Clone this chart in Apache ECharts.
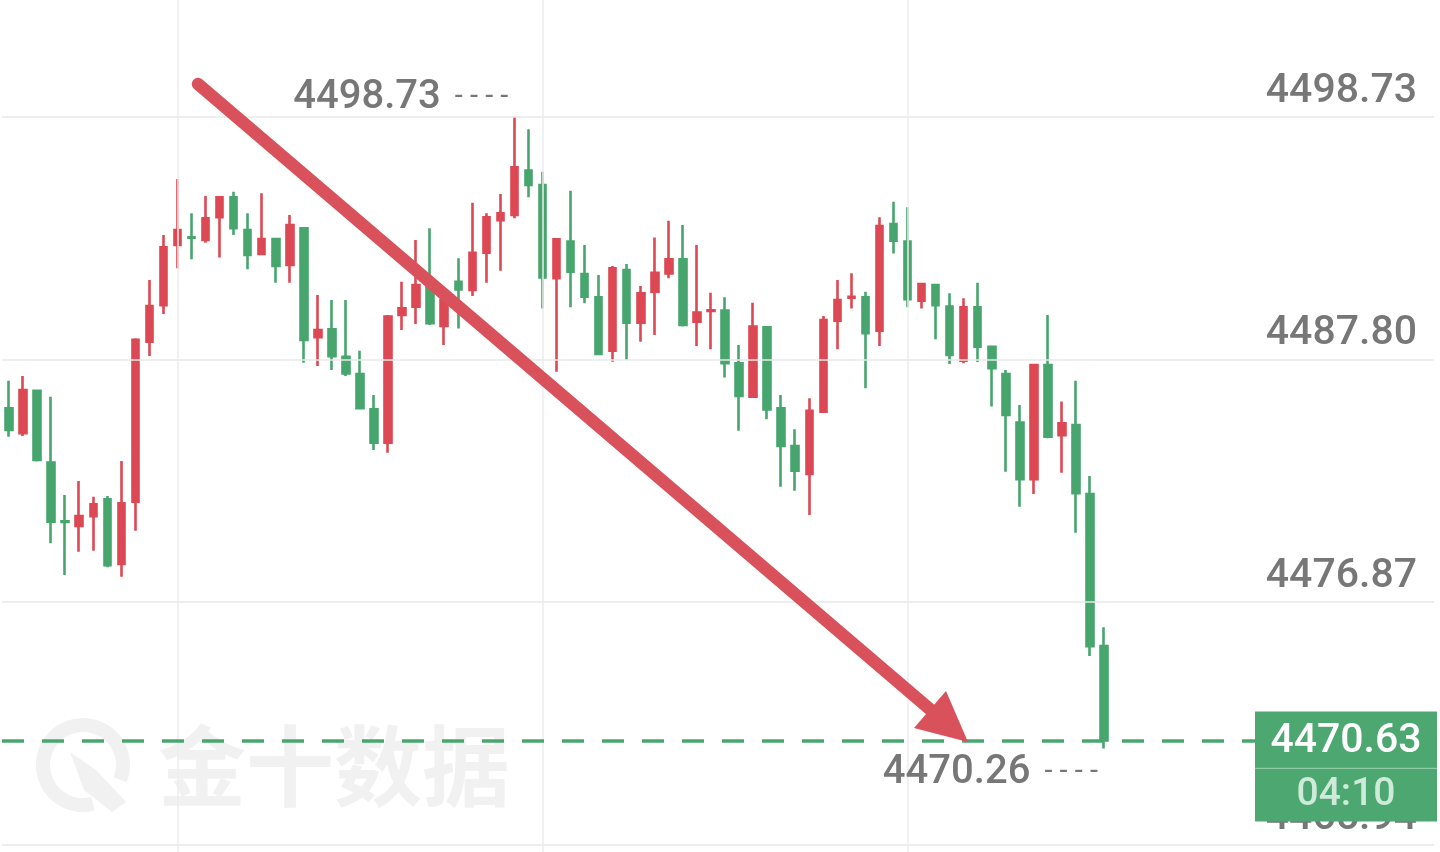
<!DOCTYPE html>
<html>
<head>
<meta charset="utf-8">
<script src="https://cdn.jsdelivr.net/npm/echarts@6/dist/echarts.min.js"></script>
<style>
  html, body { margin: 0; padding: 0; background: #fff; }
  #main { width: 1440px; height: 852px; }
</style>
</head>
<body>
<div id="main"></div>
<script>
// candle values, one entry per candle, left to right
const opens = [4485.60, 4484.48, 4486.39, 4483.15, 4480.50, 4480.29, 4480.74, 4481.50, 4478.58, 4481.39,
  4488.60, 4490.25, 4492.96, 4493.31, 4493.18, 4494.21, 4495.11, 4493.63, 4492.55, 4493.23,
  4492.06, 4493.71, 4488.80, 4489.16, 4487.92, 4487.14, 4485.55, 4484.05, 4489.80, 4490.18,
  4491.26, 4489.31, 4491.30, 4490.93, 4492.61, 4494.08, 4494.31, 4496.31, 4495.66, 4491.46,
  4493.11, 4491.65, 4490.60, 4488.19, 4491.83, 4489.46, 4490.85, 4491.68, 4492.31, 4489.50,
  4489.98, 4490.00, 4487.63, 4486.12, 4489.25, 4485.60, 4483.90, 4482.64, 4485.44, 4489.55,
  4490.58, 4490.60, 4489.09, 4493.90, 4493.11, 4490.45, 4491.15, 4490.18, 4487.74, 4490.15,
  4488.37, 4487.14, 4484.95, 4482.40, 4487.55, 4484.39, 4484.84, 4481.73, 4474.88];
const closes = [4484.62, 4486.42, 4483.27, 4480.49, 4480.48, 4480.74, 4481.27, 4478.53, 4481.32, 4488.68,
  4490.21, 4492.85, 4493.63, 4493.29, 4494.16, 4495.11, 4493.71, 4492.51, 4493.23, 4492.01,
  4493.86, 4488.68, 4489.13, 4487.95, 4487.17, 4485.60, 4484.05, 4489.73, 4490.10, 4491.15,
  4489.43, 4490.48, 4490.96, 4492.61, 4494.21, 4494.39, 4496.46, 4495.66, 4491.50, 4493.21,
  4491.75, 4490.63, 4488.05, 4491.91, 4489.46, 4490.78, 4491.71, 4492.31, 4489.35, 4489.91,
  4490.02, 4487.63, 4486.15, 4489.28, 4485.55, 4483.90, 4482.78, 4485.49, 4489.58, 4490.48,
  4490.62, 4488.98, 4493.81, 4493.15, 4490.51, 4491.20, 4490.25, 4488.00, 4490.15, 4488.37,
  4487.40, 4485.30, 4482.40, 4487.55, 4484.32, 4484.92, 4481.77, 4474.88, 4470.63];
const lows = [4484.32, 4484.35, 4483.20, 4479.51, 4478.08, 4479.13, 4479.18, 4478.43, 4478.01, 4480.08,
  4487.95, 4489.85, 4491.91, 4492.31, 4493.06, 4492.40, 4493.41, 4491.86, 4492.51, 4491.26,
  4491.26, 4487.65, 4487.50, 4487.32, 4487.05, 4485.55, 4483.72, 4483.60, 4489.13, 4489.40,
  4489.35, 4488.45, 4489.20, 4490.66, 4491.26, 4491.80, 4494.16, 4495.11, 4490.10, 4487.25,
  4490.15, 4490.33, 4488.00, 4487.70, 4487.77, 4488.60, 4488.90, 4491.46, 4489.28, 4488.41,
  4488.26, 4486.99, 4484.59, 4486.08, 4485.10, 4482.06, 4481.88, 4480.79, 4485.40, 4488.26,
  4490.10, 4486.50, 4488.41, 4492.58, 4490.15, 4490.10, 4488.71, 4487.59, 4487.63, 4487.68,
  4485.68, 4482.74, 4481.16, 4481.73, 4484.25, 4482.69, 4479.99, 4474.43, 4470.26];
const highs = [4486.84, 4487.05, 4486.45, 4486.12, 4481.69, 4482.32, 4481.61, 4481.64, 4483.22, 4488.75,
  4491.38, 4493.41, 4495.93, 4494.39, 4495.17, 4495.11, 4495.36, 4494.39, 4495.29, 4493.26,
  4494.31, 4493.74, 4490.70, 4490.48, 4490.48, 4488.19, 4486.20, 4489.80, 4491.30, 4493.18,
  4493.71, 4490.63, 4492.36, 4494.86, 4494.39, 4495.26, 4498.73, 4498.17, 4496.26, 4493.21,
  4495.40, 4492.96, 4491.61, 4492.01, 4492.10, 4491.11, 4493.30, 4494.05, 4493.86, 4492.96,
  4490.81, 4490.60, 4488.45, 4490.36, 4489.28, 4486.20, 4484.65, 4486.05, 4489.76, 4491.38,
  4491.68, 4490.85, 4494.21, 4494.91, 4494.66, 4491.20, 4491.20, 4490.78, 4490.56, 4491.26,
  4488.40, 4487.32, 4485.75, 4487.55, 4489.80, 4485.90, 4486.84, 4482.55, 4475.73];

const priceTicks = [4498.73, 4487.80, 4476.87, 4465.94];
const timeGridAt = [12, 38, 64];
const lastPrice = 4470.63;
const countdown = '04:10';

const UP = '#dc4853';
const DOWN = '#47a56e';
const TXT = '#777777';
const FONT = "Roboto, sans-serif";

const candles = opens.map((o, i) => [o, closes[i], lows[i], highs[i]]);
const hiIdx = highs.indexOf(Math.max(...highs));
const loIdx = lows.indexOf(Math.min(...lows));

const gridLines = priceTicks.map(v => ({
  yAxis: v,
  lineStyle: { color: '#e9e9e9', width: 1.5, type: 'solid' },
  label: {
    show: true, position: 'insideEndTop', formatter: v.toFixed(2), distance: 5,
    color: TXT, fontSize: 41, fontWeight: 500, fontFamily: FONT, padding: [0, 12, 0, 0]
  }
}));
const timeLines = timeGridAt.map(i => ({
  xAxis: i,
  lineStyle: { color: '#ececec', width: 1.5, type: 'solid' },
  label: { show: false }
}));

const extLabel = (txt) => '{v|' + txt + '}{g|}{d|- - - -}';
const extRich = {
  v: { fontSize: 40, fontWeight: 500, color: TXT, fontFamily: FONT },
  g: { width: 14 },
  d: { fontSize: 29, color: TXT, fontFamily: FONT }
};

const option = {
  animation: false,
  backgroundColor: '#ffffff',
  grid: { left: 2, right: 6, top: 0, bottom: 0 },
  xAxis: {
    type: 'category',
    max: 101,
    axisLine: { show: false },
    axisTick: { show: false },
    axisLabel: { show: false },
    splitLine: { show: false }
  },
  yAxis: {
    type: 'value',
    min: 4465.60,
    max: 4504.00,
    show: false,
    splitLine: { show: false }
  },
  series: [{
    type: 'candlestick',
    data: candles,
    barWidth: 7,
    clip: false,
    itemStyle: {
      color: UP, color0: DOWN, borderColor: UP, borderColor0: DOWN, borderWidth: 2.6
    },
    markLine: {
      silent: true,
      symbol: ['none', 'none'],
      animation: false,
      data: gridLines.concat(timeLines).concat([{
        yAxis: lastPrice,
        lineStyle: { color: '#4aa66f', width: 3.5, type: [22, 18] },
        label: { show: false }
      }])
    },
    markPoint: {
      silent: true,
      symbol: 'circle',
      symbolSize: 0.1,
      animation: false,
      data: [
        {
          coord: [hiIdx, highs[hiIdx]],
          label: { show: true, position: 'left', distance: 6, offset: [0, -19],
                   formatter: extLabel(highs[hiIdx].toFixed(2)), rich: extRich }
        },
        {
          coord: [loIdx, lows[loIdx]],
          label: { show: true, position: 'left', distance: 6, offset: [0, 24],
                   formatter: extLabel(lows[loIdx].toFixed(2)), rich: extRich }
        }
      ]
    }
  }]
};

const chart = echarts.init(document.getElementById('main'));
chart.setOption(option);

// price tag on the right, placed at the last price level
const py = chart.convertToPixel({ xAxisIndex: 0, yAxisIndex: 0 }, [0, lastPrice])[1];
chart.setOption({
  graphic: [
    {
      type: 'arc', z: 0,
      shape: { cx: 83, cy: 765, r: 40, startAngle: Math.PI * 0.42, endAngle: Math.PI * 2.12, clockwise: true },
      style: { stroke: '#f1f1f1', lineWidth: 14, fill: null }
    },
    {
      type: 'polygon', z: 0,
      shape: { points: [[70, 752], [96, 770], [126, 802], [112, 812], [84, 790]] },
      style: { fill: '#f1f1f1' }
    },
    {
      type: 'text', z: 0, x: 158, y: 766,
      style: { text: '金十数据', fill: '#f1f1f1', font: "bold 88px 'Noto Sans CJK SC'", verticalAlign: 'middle' }
    },
    {
      type: 'line', z: 100,
      shape: { x1: 198, y1: 84, x2: 932, y2: 711 },
      style: { stroke: '#d9525b', lineWidth: 12.5, lineCap: 'round' }
    },
    {
      type: 'polygon', z: 100,
      shape: { points: [[968, 742], [914, 728], [946, 691]] },
      style: { fill: '#d9525b' }
    },
    { type: 'rect', z: 200, shape: { x: 1255, y: py - 29, width: 182, height: 110 }, style: { fill: '#4ca771' } },
    { type: 'line', z: 201, shape: { x1: 1255, y1: py + 28, x2: 1437, y2: py + 28 }, style: { stroke: '#8fcca5', lineWidth: 1.2 } },
    { type: 'text', z: 202, x: 1346, y: py + 1,
      style: { text: lastPrice.toFixed(2), fill: '#ffffff', font: '500 41px ' + FONT, align: 'center', verticalAlign: 'middle' } },
    { type: 'text', z: 202, x: 1346, y: py + 55,
      style: { text: countdown, fill: '#cdebd8', font: '500 39px ' + FONT, align: 'center', verticalAlign: 'middle' } }
  ]
});
</script>
</body>
</html>
